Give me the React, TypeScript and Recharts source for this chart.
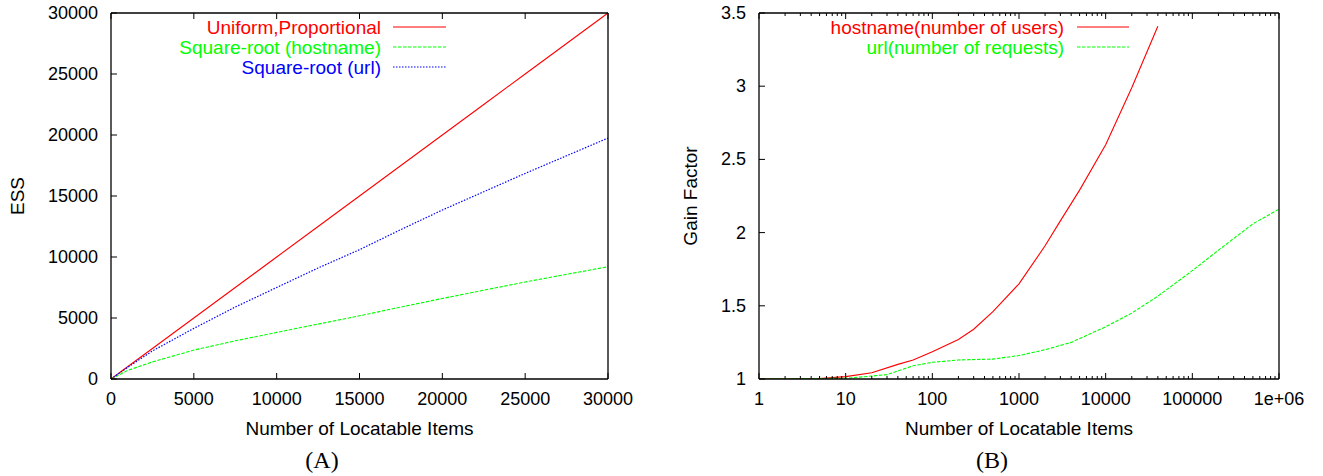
import React from 'react';
import { LineChart, Line, XAxis, YAxis, Legend } from 'recharts';

// (A) effective sample size vs number of locatable items
const essItems = [0, 1000, 2500, 5000, 7500, 10000, 12500, 15000, 17500, 20000, 22500, 25000, 27500, 30000];
const uniformEss = [0, 1000, 2500, 5000, 7500, 10000, 12500, 15000, 17500, 20000, 22500, 25000, 27500, 30000];
const hostnameEss = [0, 700, 1400, 2370, 3130, 3820, 4500, 5180, 5900, 6600, 7280, 7950, 8580, 9200];
const urlEss = [0, 950, 2300, 4150, 5900, 7500, 9100, 10600, 12250, 13850, 15350, 16850, 18300, 19750];
const essTicks = [0, 5000, 10000, 15000, 20000, 25000, 30000];

// (B) gain factor, log x axis
const hostnameItems = [1, 2, 5, 10, 20, 40, 60, 100, 200, 300, 500, 1000, 2000, 3000, 5000, 10000, 20000, 40000];
const hostnameGain = [1, 1, 1.003, 1.016, 1.043, 1.1, 1.13, 1.186, 1.27, 1.34, 1.46, 1.65, 1.91, 2.08, 2.29, 2.6, 2.99, 3.41];
const urlItems = [1, 10, 20, 30, 60, 100, 200, 500, 1000, 2000, 4000, 10000, 20000, 40000, 100000, 200000, 500000, 1000000];
const urlGain = [1, 1.005, 1.02, 1.03, 1.09, 1.114, 1.13, 1.136, 1.16, 1.2, 1.25, 1.357, 1.45, 1.566, 1.74, 1.88, 2.06, 2.16];
const gainTicks = [1, 1.5, 2, 2.5, 3, 3.5];
const logMajorTicks = [1, 10, 100, 1000, 10000, 100000, 1000000];
const logTickLabels = ['1', '10', '100', '1000', '10000', '100000', '1e+06'];
const logMinorSteps = [2, 3, 4, 5, 6, 7, 8, 9];

const essData = essItems.map((x, i) => ({
    x,
    uniform: uniformEss[i],
    hostname: hostnameEss[i],
    url: urlEss[i],
}));
const hostnameData = hostnameItems.map((x, i) => ({ x, gain: hostnameGain[i] }));
const urlData = urlItems.map((x, i) => ({ x, gain: urlGain[i] }));

const logTicks = [
    ...logMajorTicks,
    ...logMajorTicks.slice(0, -1).flatMap(d => logMinorSteps.map(s => d * s)),
].sort((a, b) => a - b);

const FONT = '"Liberation Sans", Arial, Helvetica, sans-serif';
const BLACK = '#000';

const essOrder = ['Uniform,Proportional', 'Square-root (hostname)', 'Square-root (url)'];
const gainOrder = ['hostname(number of users)', 'url(number of requests)'];

const dashFor: Record<string, string | undefined> = {
    'Uniform,Proportional': undefined,
    'Square-root (hostname)': '3.5 1.5',
    'Square-root (url)': '1.5 1.5',
    'hostname(number of users)': undefined,
    'url(number of requests)': '3.5 1.5',
};

function labelOf(value: number, logLabels: boolean) {
    if (!logLabels) return String(value);
    const i = logMajorTicks.indexOf(value);
    return i >= 0 ? logTickLabels[i] : null;
}

function BottomTick(props: any) {
    const { x, y, payload, log } = props;
    const label = labelOf(payload.value, log);
    const size = label === null ? 3 : 6;
    return (
        <g>
            <line x1={x} y1={y} x2={x} y2={y - size} stroke={BLACK} />
            {label !== null && (
                <text
                    x={x}
                    y={y + 20}
                    textAnchor="middle"
                    dominantBaseline="central"
                    fontFamily={FONT}
                    fontSize={18}
                    fill={BLACK}
                >
                    {label}
                </text>
            )}
        </g>
    );
}

function TopTick(props: any) {
    const { x, y, payload, log } = props;
    const size = labelOf(payload.value, log) === null ? 3 : 6;
    return <line x1={x} y1={y} x2={x} y2={y + size} stroke={BLACK} />;
}

function LeftTick(props: any) {
    const { x, y, payload } = props;
    return (
        <g>
            <line x1={x} y1={y} x2={x + 6} y2={y} stroke={BLACK} />
            <text
                x={x - 13}
                y={y}
                textAnchor="end"
                dominantBaseline="central"
                fontFamily={FONT}
                fontSize={18}
                fill={BLACK}
            >
                {String(payload.value)}
            </text>
        </g>
    );
}

function RightTick(props: any) {
    const { x, y } = props;
    return <line x1={x} y1={y} x2={x - 6} y2={y} stroke={BLACK} />;
}

function xTitle(p: any) {
    const vb = p.viewBox;
    return (
        <text
            x={vb.x + vb.width / 2}
            y={vb.y + 49}
            textAnchor="middle"
            dominantBaseline="central"
            fontFamily={FONT}
            fontSize={19}
            fill={BLACK}
        >
            Number of Locatable Items
        </text>
    );
}

function yTitle(text: string, cx: number) {
    return (p: any) => {
        const vb = p.viewBox;
        const cy = vb.y + vb.height / 2;
        return (
            <text
                x={cx}
                y={cy}
                transform={`rotate(-90, ${cx}, ${cy})`}
                textAnchor="middle"
                dominantBaseline="central"
                fontFamily={FONT}
                fontSize={19}
                fill={BLACK}
            >
                {text}
            </text>
        );
    };
}

function keyLegend(order: string[], textRight: number, lineStart: number, lineEnd: number) {
    return (props: any) => {
        const items = [...(props.payload || [])].sort(
            (a: any, b: any) => order.indexOf(a.value) - order.indexOf(b.value),
        );
        return (
            <svg width={lineEnd + 4} height={order.length * 20 + 4} style={{ display: 'block' }}>
                {items.map((item: any, i: number) => {
                    const y = 10 + i * 20;
                    return (
                        <g key={item.value}>
                            <text
                                x={textRight}
                                y={y}
                                textAnchor="end"
                                dominantBaseline="central"
                                fontFamily={FONT}
                                fontSize={19}
                                fill={item.color}
                            >
                                {item.value}
                            </text>
                            <line
                                x1={lineStart}
                                y1={y}
                                x2={lineEnd}
                                y2={y}
                                stroke={item.color}
                                strokeWidth={1.1}
                                strokeDasharray={dashFor[item.value]}
                            />
                        </g>
                    );
                })}
            </svg>
        );
    };
}

function Caption({ text, cx }: { text: string; cx: number }) {
    return (
        <div
            style={{
                position: 'absolute',
                left: cx - 40,
                width: 80,
                top: 446,
                textAlign: 'center',
                fontFamily: '"Liberation Serif", "DejaVu Serif", serif',
                fontSize: 24,
                lineHeight: '28px',
                color: BLACK,
            }}
        >
            {text}
        </div>
    );
}

export default function App() {
    return (
        <div
            style={{
                position: 'absolute',
                left: 0,
                top: 0,
                width: 1323,
                height: 476,
                background: '#fff',
                overflow: 'hidden',
            }}
        >
            <div style={{ position: 'absolute', left: 0, top: 0 }}>
                <LineChart
                    width={660}
                    height={476}
                    data={essData}
                    margin={{ top: 12, right: 51, bottom: 96, left: 10 }}
                >
                    <XAxis
                        dataKey="x"
                        type="number"
                        domain={[0, 30000]}
                        ticks={essTicks}
                        interval={0}
                        height={1}
                        tickSize={0}
                        tickMargin={0}
                        tickLine={false}
                        axisLine={{ stroke: BLACK, strokeWidth: 1.3 }}
                        tick={(p: any) => <BottomTick {...p} log={false} />}
                        label={xTitle}
                    />
                    <XAxis
                        xAxisId="top"
                        orientation="top"
                        dataKey="x"
                        type="number"
                        domain={[0, 30000]}
                        ticks={essTicks}
                        interval={0}
                        height={1}
                        tickSize={0}
                        tickMargin={0}
                        tickLine={false}
                        axisLine={{ stroke: BLACK, strokeWidth: 1.3 }}
                        tick={(p: any) => <TopTick {...p} log={false} />}
                    />
                    <YAxis
                        type="number"
                        domain={[0, 30000]}
                        ticks={essTicks}
                        interval={0}
                        width={101}
                        tickSize={0}
                        tickMargin={0}
                        tickLine={false}
                        axisLine={{ stroke: BLACK, strokeWidth: 1.3 }}
                        tick={(p: any) => <LeftTick {...p} />}
                        label={yTitle('ESS', 17.5)}
                    />
                    <YAxis
                        yAxisId="right"
                        orientation="right"
                        type="number"
                        domain={[0, 30000]}
                        ticks={essTicks}
                        interval={0}
                        width={1}
                        tickSize={0}
                        tickMargin={0}
                        tickLine={false}
                        axisLine={{ stroke: BLACK, strokeWidth: 1.3 }}
                        tick={(p: any) => <RightTick {...p} />}
                    />
                    <Legend
                        layout="vertical"
                        align="center"
                        verticalAlign="middle"
                        wrapperStyle={{ left: 150, top: 17, width: 300, height: 64 }}
                        content={keyLegend(essOrder, 231, 243, 296)}
                    />
                    <Line
                        type="linear"
                        dataKey="uniform"
                        name="Uniform,Proportional"
                        stroke="#ff0000"
                        strokeWidth={1.1}
                        dot={false}
                        isAnimationActive={false}
                    />
                    <Line
                        type="linear"
                        dataKey="hostname"
                        name="Square-root (hostname)"
                        stroke="#00ff00"
                        strokeWidth={1.1}
                        strokeDasharray={dashFor['Square-root (hostname)']}
                        dot={false}
                        isAnimationActive={false}
                    />
                    <Line
                        type="linear"
                        dataKey="url"
                        name="Square-root (url)"
                        stroke="#0000ff"
                        strokeWidth={1.2}
                        strokeDasharray={dashFor['Square-root (url)']}
                        dot={false}
                        isAnimationActive={false}
                    />
                </LineChart>
            </div>

            <div style={{ position: 'absolute', left: 660, top: 0 }}>
                <LineChart
                    width={663}
                    height={476}
                    margin={{ top: 12, right: 43, bottom: 96, left: 0 }}
                >
                    <XAxis
                        dataKey="x"
                        type="number"
                        scale="log"
                        domain={[1, 1000000]}
                        allowDataOverflow
                        ticks={logTicks}
                        interval={0}
                        height={1}
                        tickSize={0}
                        tickMargin={0}
                        tickLine={false}
                        axisLine={{ stroke: BLACK, strokeWidth: 1.3 }}
                        tick={(p: any) => <BottomTick {...p} log />}
                        label={xTitle}
                    />
                    <XAxis
                        xAxisId="top"
                        orientation="top"
                        dataKey="x"
                        type="number"
                        scale="log"
                        domain={[1, 1000000]}
                        allowDataOverflow
                        ticks={logTicks}
                        interval={0}
                        height={1}
                        tickSize={0}
                        tickMargin={0}
                        tickLine={false}
                        axisLine={{ stroke: BLACK, strokeWidth: 1.3 }}
                        tick={(p: any) => <TopTick {...p} log />}
                    />
                    <YAxis
                        type="number"
                        domain={[1, 3.5]}
                        allowDataOverflow
                        ticks={gainTicks}
                        interval={0}
                        width={99}
                        tickSize={0}
                        tickMargin={0}
                        tickLine={false}
                        axisLine={{ stroke: BLACK, strokeWidth: 1.3 }}
                        tick={(p: any) => <LeftTick {...p} />}
                        label={yTitle('Gain Factor', 30)}
                    />
                    <YAxis
                        yAxisId="right"
                        orientation="right"
                        type="number"
                        domain={[1, 3.5]}
                        ticks={gainTicks}
                        interval={0}
                        width={1}
                        tickSize={0}
                        tickMargin={0}
                        tickLine={false}
                        axisLine={{ stroke: BLACK, strokeWidth: 1.3 }}
                        tick={(p: any) => <RightTick {...p} />}
                    />
                    <Legend
                        layout="vertical"
                        align="center"
                        verticalAlign="middle"
                        wrapperStyle={{ left: 150, top: 17, width: 330, height: 44 }}
                        content={keyLegend(gainOrder, 254, 267, 319)}
                    />
                    <Line
                        data={hostnameData}
                        type="linear"
                        dataKey="gain"
                        name="hostname(number of users)"
                        stroke="#ff0000"
                        strokeWidth={1.1}
                        dot={false}
                        isAnimationActive={false}
                    />
                    <Line
                        data={urlData}
                        type="linear"
                        dataKey="gain"
                        name="url(number of requests)"
                        stroke="#00ff00"
                        strokeWidth={1.1}
                        strokeDasharray={dashFor['url(number of requests)']}
                        dot={false}
                        isAnimationActive={false}
                    />
                </LineChart>
            </div>

            <Caption text="(A)" cx={322} />
            <Caption text="(B)" cx={992} />
        </div>
    );
}
